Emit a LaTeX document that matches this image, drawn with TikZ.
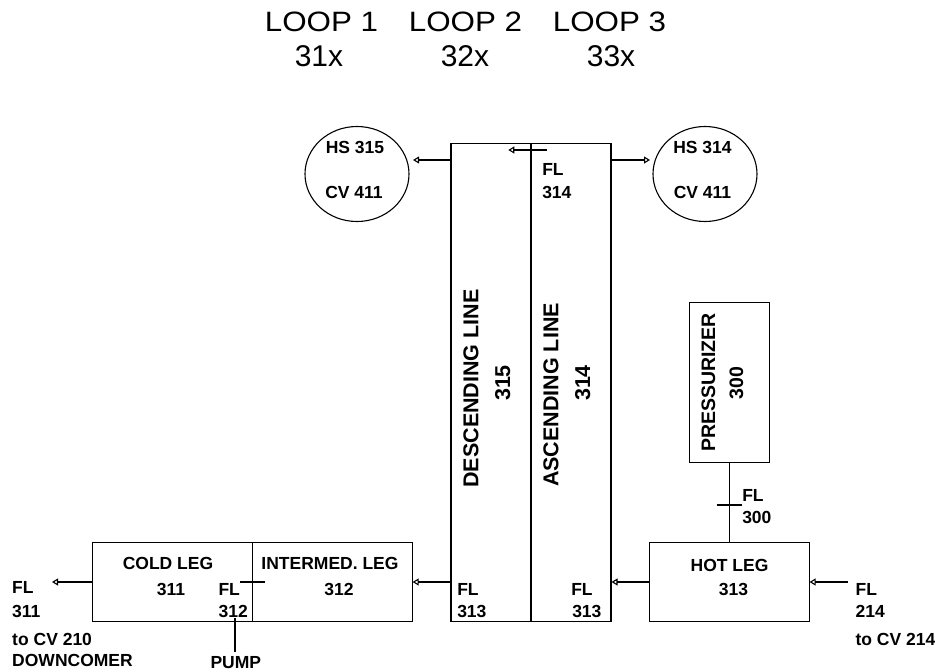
\documentclass[tikz,border=0pt]{standalone}
\usepackage{fontspec}
\setmainfont{Liberation Sans}
\usetikzlibrary{arrows.meta,shapes.geometric}
\begin{document}
\begin{tikzpicture}[x=1pt,y=-1pt,
  line width=1.1pt,
  box/.style={draw, rectangle, inner sep=0pt},
  vessel/.style={draw, ellipse, inner sep=0pt, minimum width=104pt, minimum height=95pt},
  arr/.style={-{Triangle[open,length=6pt,width=7pt]}},
  lbl/.style={font=\bfseries\fontsize{17.5}{20}\selectfont, inner sep=0pt, anchor=base},
  lblw/.style={lbl, anchor=base west},
  vlbl/.style={font=\bfseries\fontsize{21.5}{24}\selectfont, inner sep=0pt, rotate=90, anchor=base},
  plbl/.style={font=\bfseries\fontsize{19.5}{22}\selectfont, inner sep=0pt, rotate=90, anchor=base},
  ttl/.style={font=\fontsize{28}{32}\selectfont, inner sep=0pt, anchor=base, xscale=1.12},
  num/.style={font=\fontsize{30}{34}\selectfont, inner sep=0pt, anchor=base}
]
\useasboundingbox (0,0) rectangle (935,672);

% titles
\node[ttl] (t1) at (321.5,31.5) {LOOP 1};
\node[ttl] (t2) at (465.5,31.5) {LOOP 2};
\node[ttl] (t3) at (609.5,31.5) {LOOP 3};
\node[num] (n1) at (319,66.5) {31x};
\node[num] (n2) at (465,66.5) {32x};
\node[num] (n3) at (611,66.5) {33x};

% vessels
\node[box, minimum width=80pt, minimum height=478.4pt] (desc) at (491,382.5) {};
\node[box, minimum width=80pt, minimum height=478.4pt] (asc) at (571,382.5) {};
\node[box, minimum width=79.7pt, minimum height=159.6pt] (prz) at (729.2,382.5) {};
\node[box, minimum width=159.7pt, minimum height=79.4pt] (hot) at (729.2,582) {};
\node[box, minimum width=159.6pt, minimum height=79.4pt] (inter) at (332.3,582) {};
\node[box, minimum width=159.6pt, minimum height=79.4pt] (cold) at (172.5,582) {};
\node[vessel] (hs315) at (357,174) {};
\node[vessel] (hs314) at (705,174) {};

% connector end points
\coordinate (a1) at (413,160);
\coordinate (a2) at (650,160);
\coordinate (f1) at (546.7,150);
\coordinate (f2) at (508.3,150);
\coordinate (o311) at (52,582);
\coordinate (i214) at (848,582);
\coordinate (p1) at (240,582);
\coordinate (p2) at (265,582);
\coordinate (pump) at (235,652);
\coordinate (pt) at (235,618);
\coordinate (k1) at (716.7,505);
\coordinate (k2) at (741.7,505);

% connectors
\draw[arr] (desc.west |- a1) -- (a1);
\draw[arr] (asc.east |- a2) -- (a2);
\draw[arr] (f1) -- (f2);
\draw[arr] (hot.west) -- (asc.east |- hot.west);
\draw[arr] (i214) -- (hot.east);
\draw[arr] (desc.west |- inter.east) -- (inter.east);
\draw[arr] (cold.west) -- (o311);
\draw (prz.south) -- (hot.north);
\draw (k1) -- (k2);
\draw (p1) -- (p2);
\draw (pt) -- (pump);

% vessel labels
\node[lbl] (hsa) at (355,153.3) {HS 315};
\node[lbl] (cva) at (354,198.3) {CV 411};
\node[lbl] (hsb) at (702.5,153.3) {HS 314};
\node[lbl] (cvb) at (702.5,198.3) {CV 411};
\node[lblw] (fl314a) at (541.7,175) {FL};
\node[lblw] (fl314b) at (541.7,198.3) {314};

\node[vlbl] (dl) at (478.3,388.5) {DESCENDING LINE};
\node[vlbl] (dn) at (510,383) {315};
\node[vlbl] (al) at (558.3,395) {ASCENDING LINE};
\node[vlbl] (an) at (590,383) {314};
\node[plbl] (pl) at (715,382.5) {PRESSURIZER};
\node[plbl] (pn) at (743,383) {300};

\node[lblw] (fl300a) at (741.7,501.7) {FL};
\node[lblw] (fl300b) at (741.7,523.3) {300};

\node[lbl] (hl) at (729.5,571.7) {HOT LEG};
\node[lbl] (hn) at (733.5,595) {313};
\node[lblw] (fl214a) at (855,595.7) {FL};
\node[lblw] (fl214b) at (855,617) {214};
\node[lblw] (cv214) at (855,645) {to CV 214};

\node[lblw] (fl313a) at (456.7,595.7) {FL};
\node[lblw] (fl313b) at (456.7,617) {313};
\node[lblw] (fl313c) at (570.7,595.7) {FL};
\node[lblw] (fl313d) at (571.7,617) {313};

\node[lbl] (il) at (330,569.3) {INTERMED. LEG};
\node[lbl] (in) at (339,595) {312};
\node[lbl] (cl) at (168,569.3) {COLD LEG};
\node[lbl] (cn) at (171,595) {311};
\node[lblw] (fl312a) at (218,595) {FL};
\node[lblw] (fl312b) at (218,617) {312};
\node[lbl] (pumpl) at (235.8,668) {PUMP};

\node[lblw] (fl311a) at (11.7,593) {FL};
\node[lblw] (fl311b) at (11.7,617) {311};
\node[lblw] (cv210) at (11.7,645) {to CV 210};
\node[lblw] (dc) at (11.7,666.7) {DOWNCOMER};
\end{tikzpicture}
\end{document}
